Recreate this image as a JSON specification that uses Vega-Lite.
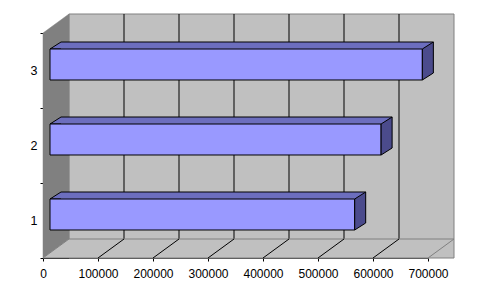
{
  "$schema": "https://vega.github.io/schema/vega-lite/v6.json",
  "width": 385,
  "height": 225,
  "autosize": {"type": "none"},
  "padding": {"left": 43, "top": 33, "right": 50, "bottom": 31},
  "background": "#ffffff",
  "datasets": {
    "bars": [
      {"category": "1", "value": 554000},
      {"category": "2", "value": 602000},
      {"category": "3", "value": 677000}
    ],
    "ticks": [
      {"t": 100000}, {"t": 200000}, {"t": 300000}, {"t": 400000}, {"t": 500000}, {"t": 600000}
    ],
    "one": [{"id": 1}]
  },
  "layer": [
    {
      "data": {"name": "one"},
      "mark": {"type": "rect", "fill": "#C0C0C0", "stroke": "#808080", "strokeWidth": 1, "xOffset": 26, "x2Offset": 26, "yOffset": -19, "y2Offset": -19},
      "encoding": {
        "x": {"datum": 0, "type": "quantitative", "scale": {"domain": [0, 700000], "nice": false, "zero": true}},
        "x2": {"datum": 700000}
      }
    },
    {
      "data": {"name": "ticks"},
      "mark": {"type": "rule", "stroke": "#000000", "strokeWidth": 1, "xOffset": 26, "yOffset": -19, "y2Offset": -19},
      "encoding": {
        "x": {"field": "t", "type": "quantitative", "title": null}
      }
    },
    {
      "data": {"name": "one"},
      "mark": {"type": "point", "shape": "M-0.10656,-0.84426 L0.10656,-1 L0.10656,0.84426 L-0.10656,1 Z", "size": 59536, "filled": true, "fill": "#808080", "stroke": "#808080", "strokeWidth": 0.5, "opacity": 1, "xOffset": 13, "yOffset": -9.5},
      "encoding": {
        "x": {"datum": 0, "type": "quantitative"}
      }
    },
    {
      "data": {"name": "one"},
      "mark": {"type": "point", "shape": "M-1,0.046229 L0.873479,0.046229 L1,-0.046229 L-0.873479,-0.046229 Z", "size": 168921, "filled": true, "fill": "#C0C0C0", "stroke": "#808080", "strokeWidth": 1, "opacity": 1, "xOffset": 13, "yOffset": 103},
      "encoding": {
        "x": {"datum": 350000, "type": "quantitative"}
      }
    },
    {
      "data": {"name": "ticks"},
      "mark": {"type": "point", "shape": "M-1,0.730769 L1,-0.730769", "size": 676, "filled": false, "fill": null, "stroke": "#000000", "strokeWidth": 1, "opacity": 1, "xOffset": 13, "yOffset": 103},
      "encoding": {
        "x": {"field": "t", "type": "quantitative", "title": null}
      }
    },
    {
      "data": {"name": "bars"},
      "mark": {"type": "bar", "height": {"band": 0.4133}, "fill": "#6C6EBE", "strokeWidth": 0, "xOffset": 18, "x2Offset": 18, "yOffset": -13, "y2Offset": -13},
      "encoding": {
        "x": {"field": "value", "type": "quantitative", "title": null},
        "x2": {"datum": 0},
        "y": {"field": "category", "type": "nominal", "title": null, "scale": {"domain": ["3", "2", "1"], "paddingInner": 0, "paddingOuter": 0}}
      }
    },
    {
      "data": {"name": "bars"},
      "mark": {"type": "point", "shape": "M1,0.636364 L-1,0.636364 L1,-0.636364", "size": 121, "filled": true, "fill": "#6C6EBE", "stroke": "#000000", "strokeWidth": 1, "opacity": 1, "xOffset": 12.5, "yOffset": -25},
      "encoding": {
        "x": {"datum": 0, "type": "quantitative"},
        "y": {"field": "category", "type": "nominal", "title": null}
      }
    },
    {
      "data": {"name": "bars"},
      "mark": {"type": "bar", "height": {"band": 0.4133}, "fill": "#9999FF", "stroke": "#000000", "strokeWidth": 1, "xOffset": 7, "x2Offset": 7, "yOffset": -6, "y2Offset": -6},
      "encoding": {
        "x": {
          "field": "value", "type": "quantitative", "title": null,
          "axis": {"values": [0, 100000, 200000, 300000, 400000, 500000, 600000, 700000], "format": "d", "labelPadding": 7, "labelFlush": false, "labelOverlap": false, "title": null}
        },
        "x2": {"datum": 0},
        "y": {
          "field": "category", "type": "nominal", "title": null,
          "axis": {"tickBand": "extent", "labelPadding": 3, "labelAngle": 0, "labelFontSize": 12.5, "title": null}
        }
      }
    },
    {
      "data": {"name": "bars"},
      "mark": {"type": "point", "shape": "M-0.2895,-0.6316 L0.2895,-1 L0.2895,0.6316 L-0.2895,1 Z", "size": 1444, "filled": true, "fill": "#4B4B8C", "stroke": "#000000", "strokeWidth": 1, "opacity": 1, "xOffset": 12.5, "yOffset": -9.5},
      "encoding": {
        "x": {"field": "value", "type": "quantitative", "title": null},
        "y": {"field": "category", "type": "nominal", "title": null}
      }
    },
    {
      "data": {"name": "bars"},
      "mark": {"type": "rule", "stroke": "#000000", "strokeWidth": 1, "xOffset": 18, "x2Offset": 18, "yOffset": -28.5},
      "encoding": {
        "x": {"field": "value", "type": "quantitative", "title": null},
        "x2": {"datum": 0},
        "y": {"field": "category", "type": "nominal", "title": null}
      }
    }
  ],
  "config": {
    "view": {"stroke": null},
    "axis": {
      "labelFont": "Liberation Sans",
      "labelFontSize": 12,
      "labelColor": "#000000",
      "domainColor": "#000000",
      "domainWidth": 1,
      "tickColor": "#000000",
      "tickSize": 3,
      "grid": false,
      "zindex": 1
    }
  }
}
